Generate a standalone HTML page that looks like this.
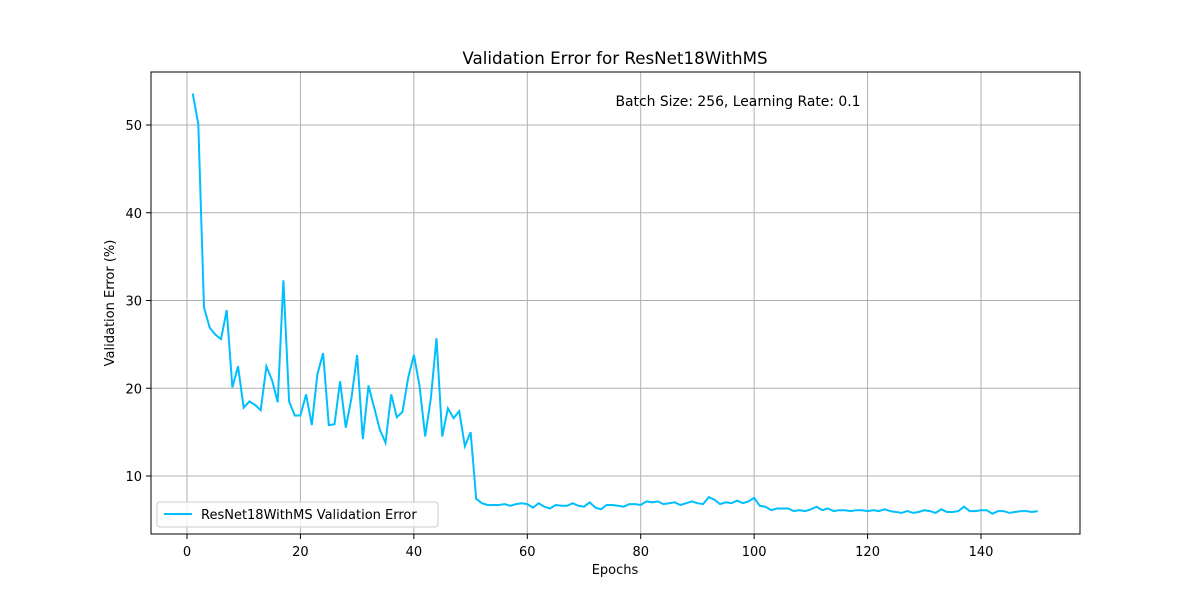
<!DOCTYPE html>
<html><head><meta charset="utf-8"><style>body{margin:0;background:#fff}svg{display:block;font-family:"DejaVu Sans","Liberation Sans",sans-serif}</style></head>
<body>
<svg id="chart" width="1200" height="600">
<text x="615" y="64" text-anchor="middle" font-size="16.7">Validation Error for ResNet18WithMS</text>
<g id="grid"></g><g id="ticks"></g>
<path id="line" fill="none" stroke="#00bfff" stroke-width="2"/>
<rect x="151" y="72" width="929" height="462" fill="none" stroke="#000" stroke-width="1"/>
<text x="738" y="106" text-anchor="middle" font-size="13.9">Batch Size: 256, Learning Rate: 0.1</text>
<text x="615" y="574" text-anchor="middle" font-size="13">Epochs</text>
<text transform="translate(114,303) rotate(-90)" text-anchor="middle" font-size="13">Validation Error (%)</text>
<g>
<rect x="157" y="502" width="281" height="25" rx="3" fill="#fff" fill-opacity="0.8" stroke="#ccc"/>
<line x1="164" y1="514" x2="192" y2="514" stroke="#00bfff" stroke-width="2"/>
<text x="201" y="519" font-size="13">ResNet18WithMS Validation Error</text>
</g>
</svg>
<script>
const values=[53.6,50.1,29.2,26.9,26.1,25.6,28.9,20.1,22.5,17.8,18.5,18.1,17.5,22.5,20.9,18.4,32.3,18.5,16.9,16.9,19.3,15.8,21.6,24.0,15.8,15.9,20.8,15.5,18.9,23.8,14.2,20.3,17.8,15.3,13.8,19.3,16.7,17.3,21.2,23.8,20.3,14.5,18.9,25.7,14.5,17.7,16.6,17.4,13.4,15.0,7.4,6.9,6.7,6.7,6.7,6.8,6.6,6.8,6.9,6.8,6.4,6.9,6.5,6.3,6.7,6.6,6.6,6.9,6.6,6.5,7.0,6.4,6.2,6.7,6.7,6.6,6.5,6.8,6.8,6.7,7.1,7.0,7.1,6.8,6.9,7.0,6.7,6.9,7.1,6.9,6.8,7.6,7.3,6.8,7.0,6.9,7.2,6.9,7.1,7.5,6.6,6.5,6.1,6.3,6.3,6.3,6.0,6.1,6.0,6.2,6.5,6.1,6.3,6.0,6.1,6.1,6.0,6.1,6.1,6.0,6.1,6.0,6.2,6.0,5.9,5.8,6.0,5.8,5.9,6.1,6.0,5.8,6.2,5.9,5.9,6.0,6.5,6.0,6.0,6.1,6.1,5.7,6.0,6.0,5.8,5.9,6.0,6.0,5.9,6.0];
const xTicks=[0,20,40,60,80,100,120,140];
const yTicks=[10,20,30,40,50];
const X=v=>187+v*(113.43/20), Y=v=>476-(v-10)*8.775;
const ns='http://www.w3.org/2000/svg';
const grid=document.getElementById('grid'), ticks=document.getElementById('ticks');
function mk(p,tag,a){const e=document.createElementNS(ns,tag);for(const k in a)e.setAttribute(k,a[k]);p.appendChild(e);return e;}
xTicks.forEach(t=>{const x=X(t);
 const g=mk(grid,'line',{x1:x,x2:x,y1:72,y2:534,stroke:'#b0b0b0','stroke-width':1});
 
 
 mk(ticks,'line',{x1:x,x2:x,y1:534,y2:539,stroke:'#000'});
 const tx=mk(ticks,'text',{x:x,y:556,'text-anchor':'middle','font-size':13});tx.textContent=t;
 
 });
yTicks.forEach(t=>{const y=Y(t);
 const g=mk(grid,'line',{x1:151,x2:1080,y1:y,y2:y,stroke:'#b0b0b0','stroke-width':1});
 
 
 mk(ticks,'line',{x1:146,x2:151,y1:y,y2:y,stroke:'#000'});
 const tx=mk(ticks,'text',{x:142,y:y+5,'text-anchor':'end','font-size':13});tx.textContent=t;
 
 });
document.getElementById('line').setAttribute('d',values.map((v,i)=>(i?'L':'M')+X(i+1).toFixed(1)+','+Y(v).toFixed(1)).join(''));
</script>
</body></html>
